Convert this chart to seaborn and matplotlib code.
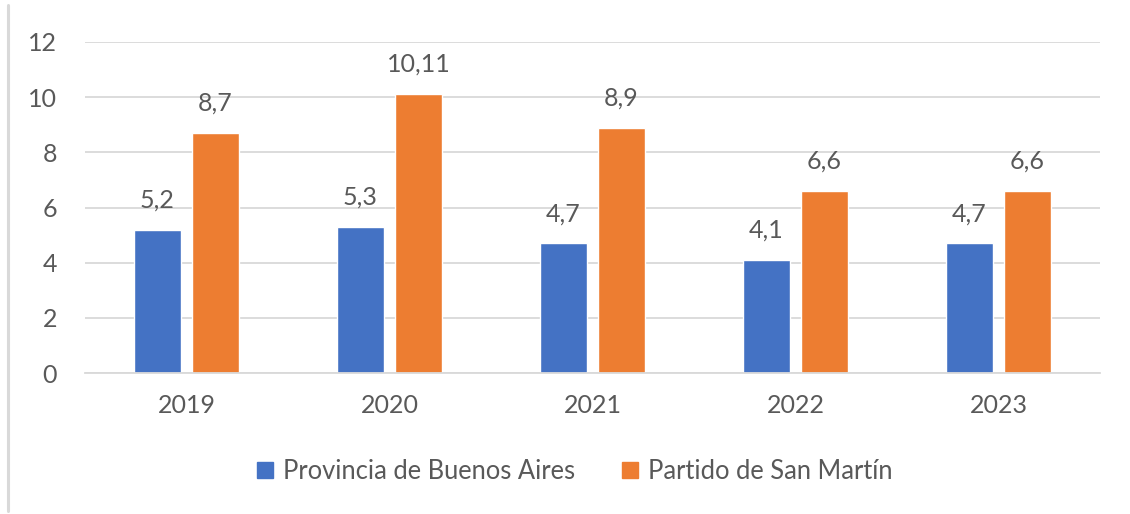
import pandas as pd
import matplotlib.pyplot as plt
import seaborn as sns
from matplotlib.lines import Line2D

# Data
years = ["2019", "2020", "2021", "2022", "2023"]
provincia = [5.2, 5.3, 4.7, 4.1, 4.7]
san_martin = [8.7, 10.11, 8.9, 6.6, 6.6]
series_names = ["Provincia de Buenos Aires", "Partido de San Martín"]
y_ticks = [0, 2, 4, 6, 8, 10, 12]

df = pd.DataFrame({
    "year": years * 2,
    "value": provincia + san_martin,
    "serie": [series_names[0]] * len(years) + [series_names[1]] * len(years),
})

sns.set_theme(style="white")
plt.rcParams["font.family"] = ["Lato", "DejaVu Sans"]
text_color = "#595959"
grid_color = "#d9d9d9"
palette = {series_names[0]: "#4472C4", series_names[1]: "#ED7D31"}

fig = plt.figure(figsize=(11.3, 5.14), dpi=100)
ax = fig.add_axes([0.0752, 0.2743, 0.8983, 0.6440])

sns.barplot(data=df, x="year", y="value", hue="serie", palette=palette,
            width=0.572, gap=0.2, saturation=1, ax=ax, legend=False)

ax.set_xlim(-0.5, 4.5)
ax.set_ylim(0, 12)
ax.set_yticks(y_ticks)
ax.set_xlabel("")
ax.set_ylabel("")
ax.grid(axis="y", color=grid_color, linewidth=1.3)
ax.set_axisbelow(True)
for side in ["top", "right", "left"]:
    ax.spines[side].set_visible(False)
ax.spines["bottom"].set_color(grid_color)
ax.spines["bottom"].set_linewidth(1.3)
ax.tick_params(axis="y", length=0, pad=20, labelsize=18, labelcolor=text_color)
ax.tick_params(axis="x", length=0, pad=15, labelsize=18, labelcolor=text_color)

# value labels with decimal comma
for container, vals in zip(ax.containers, [provincia, san_martin]):
    labels = [str(v).replace(".", ",") for v in vals]
    ax.bar_label(container, labels=labels, padding=13, fontsize=18, color=text_color)

handles = [Line2D([0], [0], marker="s", linestyle="", markersize=11,
                  markerfacecolor=palette[s], markeredgecolor=palette[s]) for s in series_names]
fig.legend(handles, series_names, loc="center", bbox_to_anchor=(0.508, 0.082), ncol=2,
           frameon=False, fontsize=18.4, labelcolor=text_color,
           handlelength=0.75, handletextpad=0.3, columnspacing=1.8)

# thin gray border line at the left edge of the picture
fig.add_artist(Line2D([0.0075, 0.0075], [0.005, 0.99], transform=fig.transFigure,
                      color=grid_color, linewidth=2.2))

fig.savefig("out.png", dpi=100)
